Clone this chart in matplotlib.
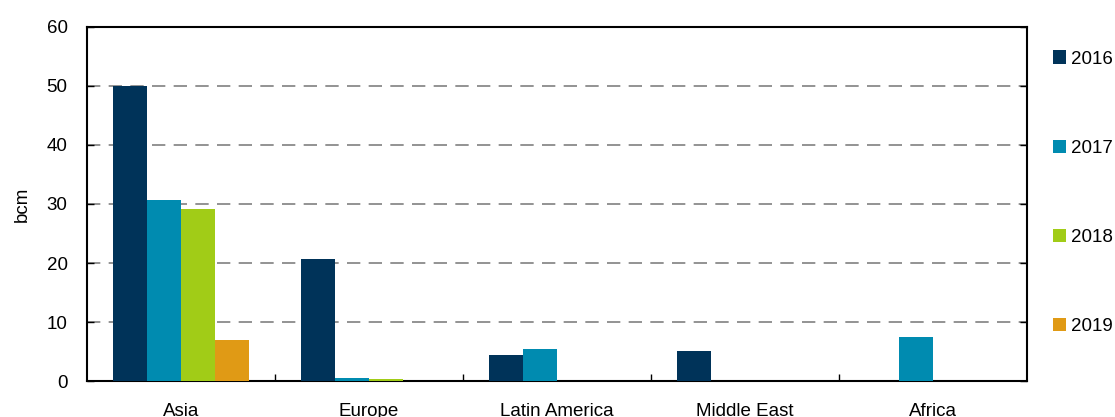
import matplotlib.pyplot as plt
import numpy as np

plt.rcParams['font.family'] = ['Liberation Sans', 'DejaVu Sans']

regions = ['Asia', 'Europe', 'Latin America', 'Middle East', 'Africa']
years = ['2016', '2017', '2018', '2019']
v2016 = [50.0, 20.7, 4.4, 5.1, 0.0]
v2017 = [30.6, 0.5, 5.4, 0.0, 7.5]
v2018 = [29.1, 0.3, 0.0, 0.0, 0.0]
v2019 = [6.9, 0.0, 0.0, 0.0, 0.0]
colors = ['#003359', '#008BB0', '#A1CC17', '#E09A15']

fig = plt.figure(figsize=(11.15, 4.17), dpi=100)
ax = fig.add_axes([0.078, 0.0863, 0.843, 0.849])

x = np.arange(len(regions))
w = 0.182
for i, (vals, yr) in enumerate(zip([v2016, v2017, v2018, v2019], years)):
    ax.bar(x + (i - 1.5) * w, vals, w, color=colors[i], label=yr, zorder=3)

ax.set_xlim(-0.5, len(regions) - 0.5)
ax.set_ylim(0, 60)
ax.set_yticks(range(0, 61, 10))
ax.tick_params(axis='y', labelsize=13.5, direction='in', length=5, right=True,
               width=1, pad=14)
ax.set_xticks(x)
ax.set_xticklabels(regions, fontsize=13.5)
ax.tick_params(axis='x', length=0, pad=16)
ax.set_xticks(np.arange(0.5, len(regions) - 1, 1), minor=True)
ax.tick_params(axis='x', which='minor', direction='in', length=5, width=1)
ax.set_ylabel('bcm', fontsize=13.5, labelpad=11)

for yv in range(10, 60, 10):
    ax.axhline(yv, color='#808080', lw=1.2, ls=(0, (8, 5)), zorder=1)

for s in ax.spines.values():
    s.set_linewidth(1.5)

ax.legend(loc='upper left', bbox_to_anchor=(1.02, 0.955), frameon=False,
          fontsize=13.5, handlelength=0.7, handleheight=0.7, handletextpad=0.25,
          labelspacing=3.85, borderaxespad=0)

fig.savefig('out.png', dpi=100)
